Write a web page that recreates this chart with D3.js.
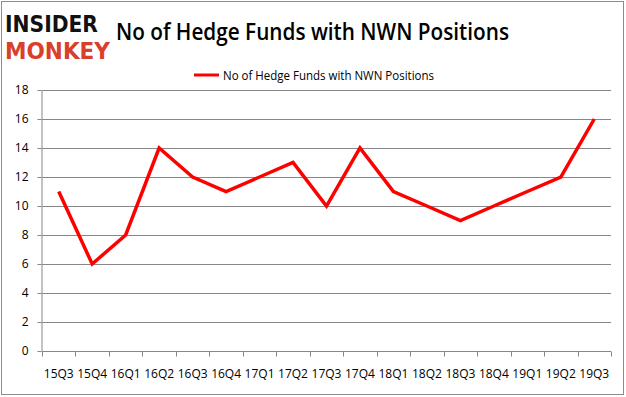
<!DOCTYPE html>
<html lang="en">
<head>
  <meta charset="UTF-8">
  <title>No of Hedge Funds with NWN Positions</title>
  <script src="https://cdn.jsdelivr.net/npm/d3@7"></script>
  <style>
    body { margin: 0; background: #fff; }
    text { font-family: "Open Sans", "Noto Sans", sans-serif; }
  </style>
</head>
<body>
  <svg width="626" height="397"></svg>
  <script>
    var quarters = ["15Q3", "15Q4", "16Q1", "16Q2", "16Q3", "16Q4", "17Q1", "17Q2", "17Q3",
                    "17Q4", "18Q1", "18Q2", "18Q3", "18Q4", "19Q1", "19Q2", "19Q3"];
    var funds = [11, 6, 8, 14, 12, 11, 12, 13, 10, 14, 11, 10, 9, 10, 11, 12, 16];
    var yTicks = [0, 2, 4, 6, 8, 10, 12, 14, 16, 18];
    var seriesName = "No of Hedge Funds with NWN Positions";

    var svg = d3.select("svg");

    // outer frame
    svg.append("rect")
      .attr("x", 1.5).attr("y", 1.5)
      .attr("width", 622).attr("height", 393)
      .attr("fill", "#fff")
      .attr("stroke", "#8c8c8c");

    // logo
    svg.append("text")
      .attr("x", 5).attr("y", 32)
      .attr("textLength", 93).attr("lengthAdjust", "spacingAndGlyphs")
      .style("font-family", "'DejaVu Sans', sans-serif")
      .style("font-weight", "bold").style("font-size", "17px")
      .attr("transform", "translate(0,32) scale(1,1.3) translate(0,-32)")
      .attr("fill", "#111")
      .text("INSIDER");
    svg.append("text")
      .attr("x", 5).attr("y", 59)
      .attr("textLength", 105).attr("lengthAdjust", "spacingAndGlyphs")
      .style("font-family", "'DejaVu Sans', sans-serif")
      .style("font-weight", "bold").style("font-size", "17px")
      .attr("transform", "translate(0,59) scale(1,1.3) translate(0,-59)")
      .attr("fill", "#d9402b")
      .text("MONKEY");

    // title
    svg.append("text")
      .attr("x", 116).attr("y", 40)
      .attr("textLength", 393).attr("lengthAdjust", "spacingAndGlyphs")
      .style("font-size", "23px").style("font-weight", "600")
      .attr("fill", "#000")
      .text(seriesName);

    // legend
    svg.append("line")
      .attr("x1", 194).attr("x2", 219)
      .attr("y1", 75).attr("y2", 75)
      .attr("stroke", "#ff0000").attr("stroke-width", 3);
    svg.append("text")
      .attr("x", 223).attr("y", 79.5)
      .attr("textLength", 211).attr("lengthAdjust", "spacingAndGlyphs")
      .style("font-size", "12px")
      .attr("fill", "#000")
      .text(seriesName);

    var x = d3.scaleBand()
      .domain(quarters)
      .range([42, 611]);

    var y = d3.scaleLinear()
      .domain([0, 18])
      .range([351, 90]);

    // gridlines
    svg.append("g")
      .selectAll("line")
      .data(yTicks)
      .enter()
      .append("line")
      .attr("x1", 42).attr("x2", 611)
      .attr("y1", (d) => Math.round(y(d)) + 0.5)
      .attr("y2", (d) => Math.round(y(d)) + 0.5)
      .attr("stroke", "#878787");

    // y axis
    var yAxis = svg.append("g")
      .attr("transform", "translate(41.5,0)")
      .call(d3.axisLeft(y).tickValues(yTicks).tickSize(4).tickSizeOuter(0));
    yAxis.select(".domain").attr("stroke", "#878787");
    yAxis.selectAll(".tick line").attr("stroke", "#878787");
    yAxis.selectAll("text")
      .attr("x", -13)
      .style("font-size", "12px")
      .attr("fill", "#000");

    // x axis
    var xAxis = svg.append("g")
      .attr("transform", "translate(0,351.5)");
    xAxis.append("line")
      .attr("x1", 42).attr("x2", 611)
      .attr("stroke", "#878787");
    xAxis.selectAll(".xtick")
      .data(quarters.concat(["end"]))
      .enter()
      .append("line")
      .attr("x1", (d, i) => Math.round(i < quarters.length ? x(d) : x.range()[1]) + 0.5)
      .attr("x2", (d, i) => Math.round(i < quarters.length ? x(d) : x.range()[1]) + 0.5)
      .attr("y1", 0).attr("y2", 5)
      .attr("stroke", "#878787");
    xAxis.selectAll(".xlabel")
      .data(quarters)
      .enter()
      .append("text")
      .attr("x", (d) => x(d) + x.bandwidth() / 2)
      .attr("y", 26)
      .attr("text-anchor", "middle")
      .style("font-size", "12px")
      .attr("fill", "#000")
      .text((d) => d);

    // series line
    var line = d3.line()
      .x((d, i) => x(quarters[i]) + x.bandwidth() / 2)
      .y((d) => y(d));

    svg.append("path")
      .datum(funds)
      .attr("d", line)
      .attr("fill", "none")
      .attr("stroke", "#ff0000")
      .attr("stroke-width", 3.5);
  </script>
</body>
</html>
